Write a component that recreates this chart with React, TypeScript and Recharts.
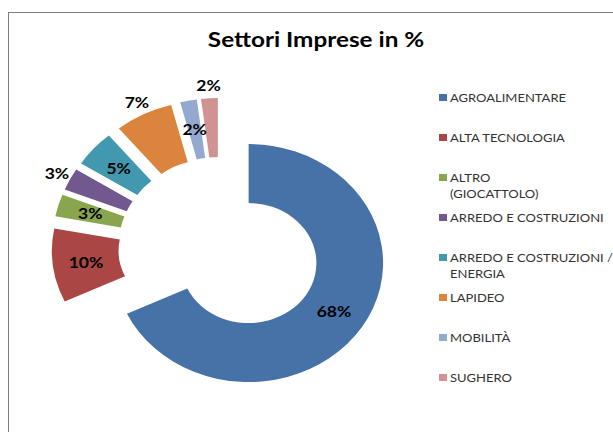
import { PieChart, Pie, Cell, Sector, Legend } from "recharts";

const categories = [
  "AGROALIMENTARE",
  "ALTA TECNOLOGIA",
  "ALTRO (GIOCATTOLO)",
  "ARREDO E COSTRUZIONI",
  "ARREDO E COSTRUZIONI / ENERGIA",
  "LAPIDEO",
  "MOBILITÀ",
  "SUGHERO",
];
const shares = [68, 10, 3, 3, 5, 7, 2, 2];
const legendLines = [
  ["AGROALIMENTARE"],
  ["ALTA TECNOLOGIA"],
  ["ALTRO", "(GIOCATTOLO)"],
  ["ARREDO E COSTRUZIONI"],
  ["ARREDO E COSTRUZIONI /", "ENERGIA"],
  ["LAPIDEO"],
  ["MOBILITÀ"],
  ["SUGHERO"],
];

const colors = ["#4672a8", "#aa4643", "#89a54e", "#71588f", "#4198af", "#db843d", "#93a9cf", "#d19392"];
// which data labels sit outside the ring (Excel "best fit")
const outsideLabel = [false, false, false, true, false, true, false, true];

const data = categories.map((name, i) => ({ name, value: shares[i] }));

const RAD = Math.PI / 180;
const STRETCH = 1.13; // the original picture is a bit wider than tall
const EXPLODE = 30;
const FONT = "Lato, 'Open Sans', sans-serif";

function explodedCenter(cx: number, cy: number, midAngle: number) {
  return {
    ox: cx + STRETCH * EXPLODE * Math.cos(-midAngle * RAD),
    oy: cy + EXPLODE * Math.sin(-midAngle * RAD),
  };
}

function ExplodedSector(props: any) {
  const { cx, cy, midAngle } = props;
  const { ox, oy } = explodedCenter(cx, cy, midAngle);
  return (
    <g transform={`translate(${ox} ${oy}) scale(${STRETCH} 1) translate(${-cx} ${-cy})`}>
      <Sector {...props} />
    </g>
  );
}

function renderLabel(props: any) {
  const { cx, cy, midAngle, innerRadius, outerRadius, index, value } = props;
  const { ox, oy } = explodedCenter(cx, cy, midAngle);
  const r = outsideLabel[index] ? outerRadius + 13 : (innerRadius + outerRadius) / 2;
  const x = ox + STRETCH * r * Math.cos(-midAngle * RAD);
  const y = oy + r * Math.sin(-midAngle * RAD);
  return (
    <text
      x={0}
      y={0}
      transform={`translate(${x} ${y}) scale(${STRETCH} 1)`}
      textAnchor="middle"
      dominantBaseline="central"
      fill="#000"
      fontFamily={FONT}
      fontWeight="bold"
      fontSize={15.5}
    >
      {value}%
    </text>
  );
}

function LegendContent(props: any) {
  const payload = props.payload || [];
  return (
    <div style={{ fontFamily: FONT, fontSize: 11.5, color: "#333" }}>
      {payload.map((entry: any, i: number) => (
        <div key={i} style={{ position: "relative", height: 40, paddingLeft: 12 }}>
          <span
            style={{
              position: "absolute",
              left: 1,
              top: 4,
              width: 8,
              height: 7,
              background: entry.color,
            }}
          />
          {legendLines[i].map((line, j) => (
            <div
              key={j}
              style={{
                lineHeight: "16px",
                whiteSpace: "nowrap",
                transform: `scaleX(${STRETCH})`,
                transformOrigin: "left center",
              }}
            >
              {line}
            </div>
          ))}
        </div>
      ))}
    </div>
  );
}

export default function App() {
  return (
    <div
      style={{
        position: "absolute",
        left: 0,
        top: 0,
        width: 613,
        height: 432,
        overflow: "hidden",
        background: "#fff",
      }}
    >
      <div
        style={{
          position: "absolute",
          left: 8,
          top: 12,
          width: 640,
          height: 460,
          border: "1px solid #7f7f7f",
        }}
      />
      <div
        style={{
          position: "absolute",
          left: 0,
          top: 26.5,
          width: 632,
          textAlign: "center",
          fontFamily: FONT,
          fontWeight: "bold",
          fontSize: 21.5,
          lineHeight: "24px",
          color: "#000",
          transform: `scaleX(${STRETCH})`,
          transformOrigin: "316px center",
        }}
      >
        Settori Imprese in %
      </div>
      <div style={{ position: "absolute", left: 0, top: 0 }}>
        <PieChart width={613} height={432} margin={{ top: 0, right: 0, bottom: 0, left: 0 }}>
          <Pie
            data={data}
            dataKey="value"
            nameKey="name"
            cx={220}
            cy={247}
            innerRadius={60}
            outerRadius={119}
            startAngle={90}
            endAngle={-270}
            stroke="none"
            shape={ExplodedSector}
            label={renderLabel}
            labelLine={false}
            isAnimationActive={false}
          >
            {data.map((_, i) => (
              <Cell key={i} fill={colors[i]} />
            ))}
          </Pie>
          <Legend
            layout="vertical"
            align="right"
            verticalAlign="top"
            content={LegendContent}
            wrapperStyle={{ left: 438, top: 90, width: 175 }}
          />
        </PieChart>
      </div>
    </div>
  );
}
